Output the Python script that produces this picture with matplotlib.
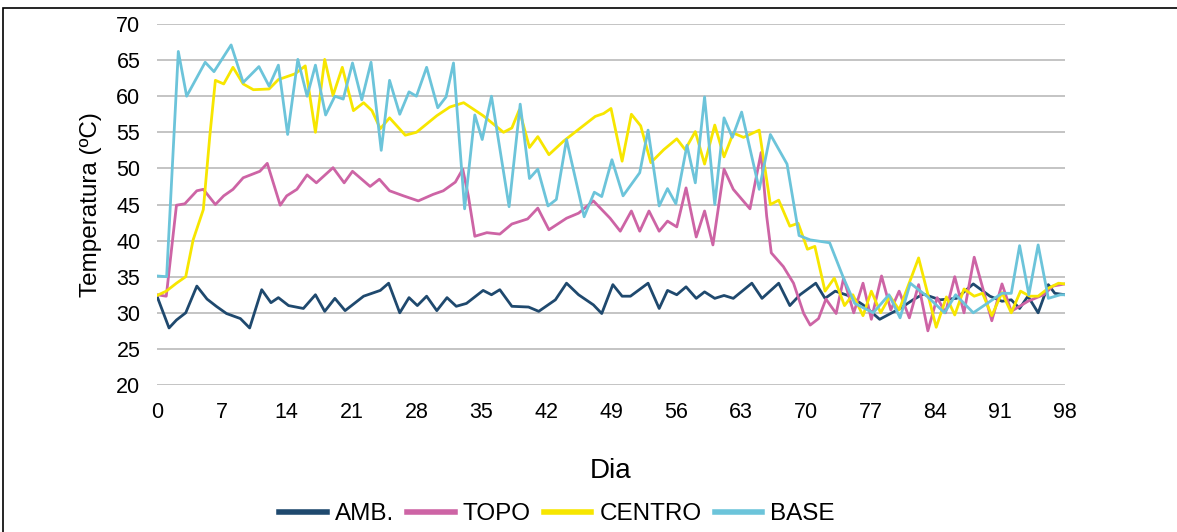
import numpy as np
import matplotlib
matplotlib.use("Agg")
import matplotlib.pyplot as plt
from matplotlib.patches import Rectangle

plt.rcParams['font.family'] = ['Liberation Sans', 'DejaVu Sans']

# values (day, temperature in ºC)
amb_dia = [0, 1.3, 2.1, 3.1, 4.3, 5.4, 6.4, 7.5, 9, 10, 11.3, 12.3, 13.1, 14.2, 15.8,
           17.1, 18.1, 19.2, 20.3, 22.3, 24.1, 25, 26.2, 27.2, 28.1, 29.1, 30.2, 31.3,
           32.3, 33.4, 35.2, 36.1, 37, 38.3, 40.1, 41.2, 43, 44.2, 45.5, 47.1, 48,
           49.2, 50.2, 51.1, 53, 54.2, 55.1, 56.1, 57.1, 58.2, 59.1, 60.2, 61.2, 62.2,
           64.2, 65.3, 67.1, 68.3, 69.4, 71.1, 72.1, 73.2, 74.8, 76.2, 78, 80.2, 81.6,
           82.7, 84.5, 86.3, 88.1, 89.9, 91.2, 92.2, 93.1, 94, 95.1, 96.2, 96.9, 98]
amb = [32.3, 27.9, 29, 30, 33.7, 31.9, 30.9, 29.9, 29.2, 27.9, 33.2, 31.4, 32.1, 31,
       30.6, 32.5, 30.2, 32, 30.3, 32.3, 33.1, 34.1, 30, 32.1, 31, 32.3, 30.3, 32.1,
       30.9, 31.3, 33.1, 32.5, 33.2, 30.9, 30.8, 30.2, 31.8, 34.1, 32.5, 31.1, 29.9,
       33.9, 32.3, 32.3, 34.1, 30.6, 33.1, 32.5, 33.6, 32, 32.9, 32, 32.4, 32, 34.1,
       32, 34.1, 31, 32.5, 34.1, 32, 33, 32.3, 31.1, 29.1, 30.6, 31.8, 32.6, 31.8,
       32, 34, 32.3, 31.6, 31.8, 30.6, 32.3, 30, 33.9, 32.7, 32.5]

topo_dia = [0, 1, 2.1, 3, 4.3, 5, 6.3, 7.2, 8.2, 9.3, 11.1, 11.9, 13.3, 14, 15.1, 16.2,
            17.2, 19, 20.2, 21.1, 23, 24, 25.1, 26.6, 28.2, 29.8, 30.9, 32.2, 33, 33.6,
            34.3, 35.6, 37, 38.3, 40, 41.1, 42.3, 44.2, 45.5, 47.1, 48.9, 50, 51.2,
            52.1, 53.1, 54.2, 55.1, 56.1, 57.1, 58.2, 59.1, 60, 61.2, 62.2, 64, 65.2,
            65.8, 66.3, 67.6, 68.7, 69.8, 70.5, 71.4, 72.2, 73.3, 74.1, 75.2, 76.2,
            77.1, 78.2, 79.2, 80.1, 81.2, 82.2, 83.2, 84.2, 85.1, 86.1, 87.1, 88.2,
            90.1, 91.2, 92.2, 94, 95.7, 96.7, 98]
topo = [32.5, 32.3, 44.9, 45.1, 46.9, 47.1, 45, 46.2, 47.1, 48.7, 49.6, 50.7, 44.9,
        46.2, 47.1, 49.1, 48, 50.1, 48, 49.6, 47.5, 48.5, 46.9, 46.2, 45.5, 46.4, 46.9,
        48.1, 49.9, 46.2, 40.6, 41.1, 40.9, 42.3, 43, 44.5, 41.5, 43.1, 43.8, 45.5,
        43.1, 41.3, 44.1, 41.3, 44.1, 41.3, 42.7, 41.9, 47.3, 40.5, 44.1, 39.4, 49.9,
        47.1, 44.4, 52.2, 43.4, 38.3, 36.4, 34.1, 29.9, 28.3, 29.2, 31.9, 29.9, 34.8,
        30, 34.1, 29.1, 35.1, 30.4, 33, 29.3, 33.9, 27.5, 32.1, 30, 35, 30, 37.7, 28.9,
        34, 30.2, 31.6, 32.5, 33.7, 34]

centro_dia = [0, 1, 2.1, 3.1, 3.9, 5, 5.7, 6.3, 7.2, 8.2, 9.3, 10.4, 12.1, 13.1, 14.9,
              16, 17.1, 18.1, 19, 20, 21.2, 22.3, 23.2, 24.1, 25.1, 26.8, 28, 30.2, 31.6,
              33.1, 35.2, 37.4, 38.3, 39.1, 40.2, 41.1, 42.3, 43.9, 47.3, 48.2, 49,
              50.2, 51.2, 52.2, 53.3, 54.7, 56.1, 57, 58.1, 59.1, 60.2, 61.2, 62.2, 63.3,
              65, 66.2, 67.1, 68.3, 69.2, 70.2, 71, 72.1, 73.1, 74.2, 75.1, 76.2, 77.1,
              78.1, 79.1, 80.1, 82.2, 84.1, 85.2, 86.1, 87.1, 88.2, 89.1, 90.1, 91.2,
              92.2, 93.2, 94.2, 95.1, 96.2, 97.3, 98]
centro = [32.4, 33, 34.1, 35, 40.1, 44.3, 54.5, 62.2, 61.7, 64, 61.7, 60.9, 61, 62.3,
          63.1, 64.2, 55, 65.1, 60.1, 64, 58, 59.1, 58, 55.5, 57, 54.6, 55, 57.3, 58.5,
          59.1, 57.3, 55, 55.6, 58.1, 52.9, 54.4, 51.9, 53.8, 57.2, 57.6, 58.3, 51,
          57.5, 55.9, 50.8, 52.6, 54.1, 52.6, 55.1, 50.6, 56, 51.6, 54.9, 54.3, 55.3,
          45, 45.6, 42, 42.4, 38.8, 39.2, 33, 34.8, 31, 32.5, 29.6, 33, 30, 32.3, 30.4,
          37.6, 28, 32.2, 29.7, 33.3, 32.3, 32.7, 29.6, 32.8, 30, 33, 32.3, 32.3, 33.4,
          34.1, 34]

base_dia = [0, 1.04, 2.3, 3.2, 5.2, 6.15, 8, 9.3, 11, 12.1, 13.1, 14.1, 15.2, 16.2,
            17.1, 18.2, 19.2, 20.1, 21.1, 22.1, 23.1, 24.2, 25.1, 26.2, 27.2, 28, 29.1,
            30.3, 31.2, 32, 33.2, 34.3, 35.1, 36.1, 38, 39.2, 40.2, 41.1, 42.2, 43.1,
            44.2, 46.1, 47.2, 48, 49.1, 50.3, 52.1, 53, 54.2, 55.1, 56, 57.2, 58.1,
            59.1, 60.2, 61.2, 62.1, 63.1, 65, 66.2, 68, 69.3, 70.5, 72.6, 74.1, 75.3,
            77.3, 79, 80.2, 81.3, 83.1, 85, 86.2, 88.1, 91.2, 92.2, 93.1, 94.1, 95.1,
            96.2, 97.5, 98]
base = [35.1, 35, 66.2, 60, 64.7, 63.4, 67.1, 61.9, 64.1, 61.4, 64.3, 54.7, 65.1, 60,
        64.3, 57.4, 60, 59.6, 64.6, 59.5, 64.7, 52.5, 62.2, 57.5, 60.6, 60, 64, 58.4,
        59.9, 64.6, 44.4, 57.4, 54, 60, 44.7, 58.9, 48.6, 49.9, 44.8, 45.7, 54, 43.3,
        46.7, 46.1, 51.2, 46.2, 49.4, 55.3, 44.8, 47.2, 45.1, 53.2, 48, 59.9, 45, 57,
        54.3, 57.8, 47.1, 54.7, 50.6, 40.7, 40.1, 39.7, 34.8, 31.3, 30, 32.5, 29.3,
        34.1, 32.3, 30, 32.5, 30, 32.7, 32.7, 39.3, 32.5, 39.4, 32, 32.5, 32.5]

series = [("AMB.", amb_dia, amb, "#1F496E"),
          ("TOPO", topo_dia, topo, "#CD64A5"),
          ("CENTRO", centro_dia, centro, "#F7E600"),
          ("BASE", base_dia, base, "#6CC4DA")]

fig = plt.figure(figsize=(11.77, 5.32), dpi=100)
ax = fig.add_axes([157/1177, 1 - 385/532, 908/1177, 361/532])

for nome, d, v, cor in series:
    ax.plot(d, v, color=cor, lw=2.0, label=nome, solid_joinstyle="round")

ax.set_xlim(0, 98)
ax.set_ylim(20, 70)
ax.set_xticks(np.arange(0, 99, 7))
ax.set_yticks(np.arange(20, 71, 5))
ax.grid(axis="y", color="#BFBFBF", lw=1.3)
ax.set_axisbelow(True)
for s in ax.spines.values():
    s.set_visible(False)
ax.tick_params(length=0, colors="black", labelsize=15.5)
ax.tick_params(axis="x", pad=12)
ax.tick_params(axis="y", pad=12)

ax.set_xlabel("Dia", fontsize=20)
ax.xaxis.set_label_coords(0.5, -0.203)
ax.set_ylabel("Temperatura (ºC)", fontsize=17.5)
ax.yaxis.set_label_coords(-0.061, 0.5)

leg = fig.legend(loc="center", bbox_to_anchor=(557/1177, 1 - 514/532), ncol=4,
                 frameon=False, fontsize=17.5,
                 handlelength=1.95, handletextpad=0.33, columnspacing=0.55)
for h in leg.get_lines():
    h.set_linewidth(4)

fig.patches.append(Rectangle((3/1177, -0.1), 1.2, 1.1 - 8/532, transform=fig.transFigure,
                             fill=False, edgecolor="black", lw=1.2))

fig.savefig("out.png", dpi=100)
